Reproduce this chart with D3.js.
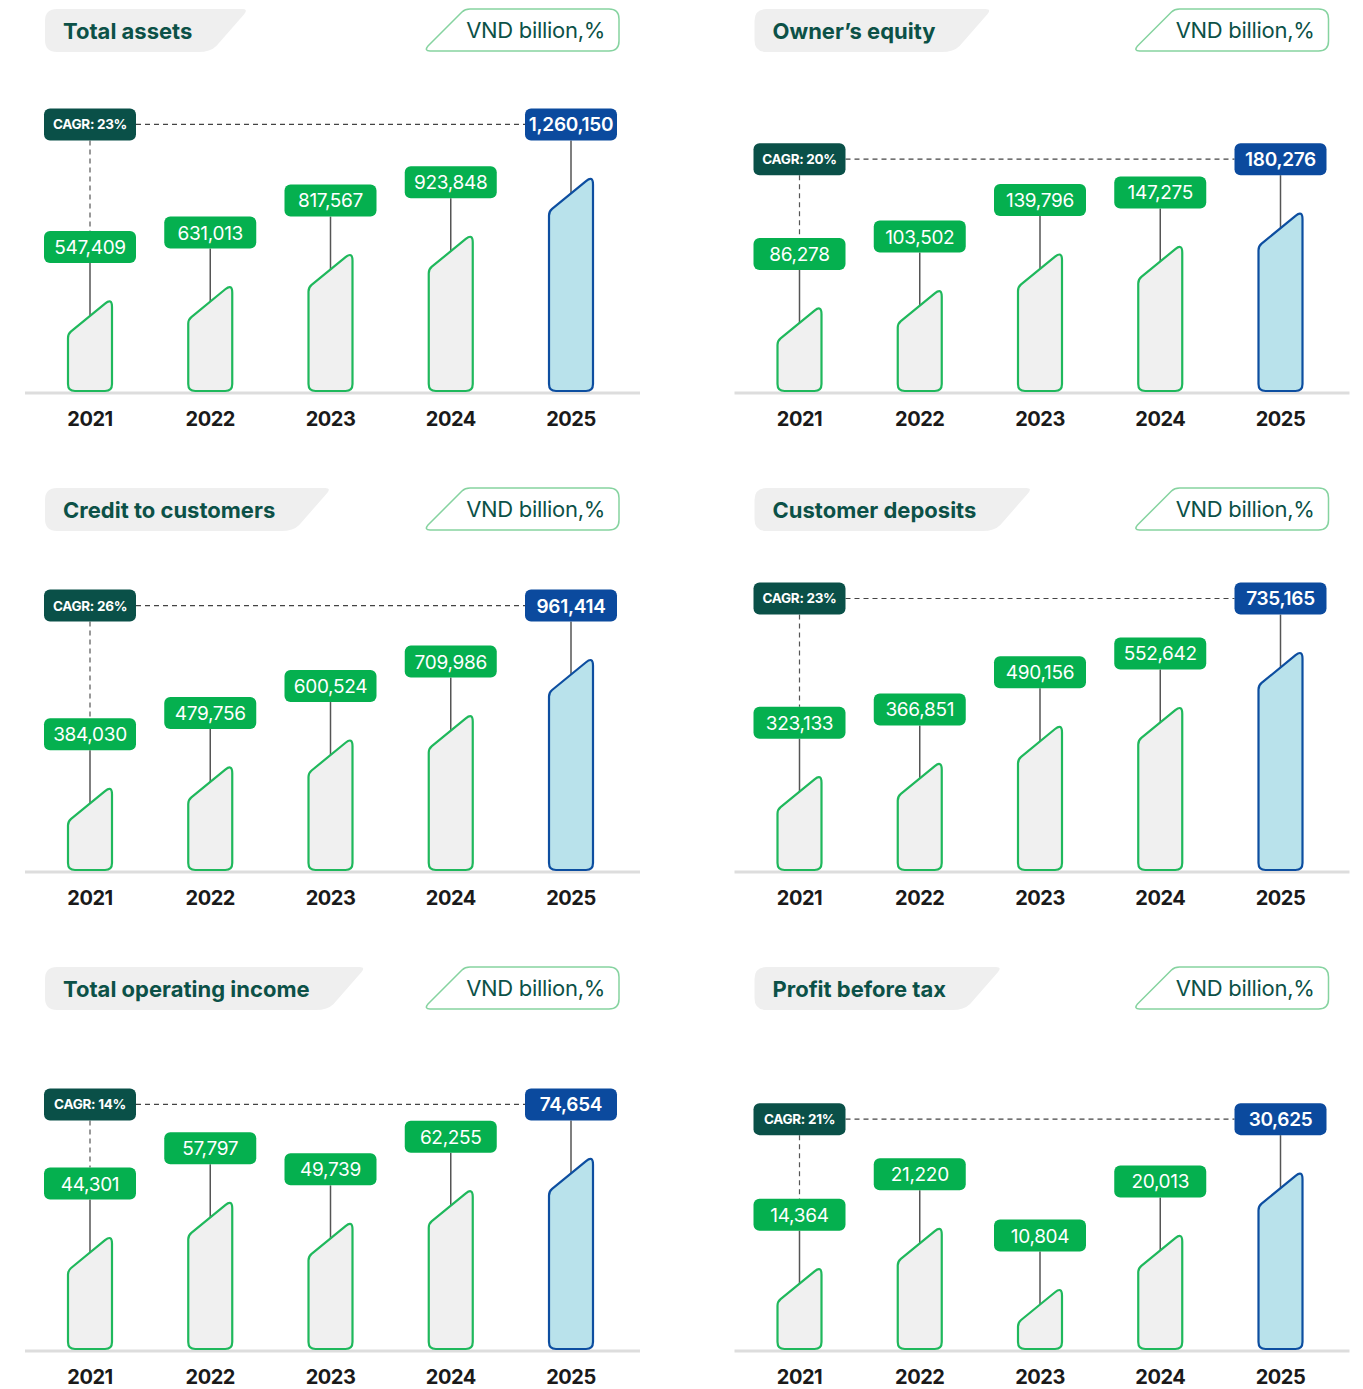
<!DOCTYPE html>
<html>
<head>
<meta charset="utf-8">
<script src="https://cdn.jsdelivr.net/npm/d3@7"></script>
<style>
  body { margin: 0; background: #ffffff; }
  svg text { font-family: Inter, "Noto Sans", sans-serif; }
</style>
</head>
<body>
<div id="canvasContainer"></div>
<script>
// Chart data
var years = ["2021", "2022", "2023", "2024", "2025"];
var titles = ["Total assets", "Owner\u2019s equity", "Credit to customers",
              "Customer deposits", "Total operating income", "Profit before tax"];
var unitLabel = "VND billion,%";
var totalAssets = [547409, 631013, 817567, 923848, 1260150];
var ownersEquity = [86278, 103502, 139796, 147275, 180276];
var creditToCustomers = [384030, 479756, 600524, 709986, 961414];
var customerDeposits = [323133, 366851, 490156, 552642, 735165];
var operatingIncome = [44301, 57797, 49739, 62255, 74654];
var profitBeforeTax = [14364, 21220, 10804, 20013, 30625];
var cagrLabels = ["23%", "20%", "26%", "23%", "14%", "21%"];
// top of each panel's value axis
var scaleMax = [1350000, 230000, 1040000, 770000, 89000, 39500];

var seriesList = [totalAssets, ownersEquity, creditToCustomers,
                  customerDeposits, operatingIncome, profitBeforeTax];

var width = 1363;
var height = 1389;

var svg = d3.select("#canvasContainer").append("svg")
    .attr("width", width).attr("height", height);

var fmt = d3.format(",");

// Builds the bar outline: flat bottom, slanted top going up to the right
function barPath(x, w, yTop, yBase, drop) {
  var r = 7, r2 = 9, r1 = 4;
  var len = Math.sqrt(w * w + drop * drop);
  var ux = w / len, uy = -drop / len;
  var dx = x, dy = yTop + drop;
  var p = d3.path();
  p.moveTo(x, dy + r1);
  p.lineTo(x, yBase - r);
  p.quadraticCurveTo(x, yBase, x + r, yBase);
  p.lineTo(x + w - r, yBase);
  p.quadraticCurveTo(x + w, yBase, x + w, yBase - r);
  p.lineTo(x + w, yTop + r2);
  p.quadraticCurveTo(x + w, yTop, x + w - r2 * ux, yTop - r2 * uy);
  p.lineTo(dx + r1 * ux, dy + r1 * uy);
  p.quadraticCurveTo(dx, dy, x, dy + r1);
  p.closePath();
  return p.toString();
}

// Draws one panel, offset by column and row
function drawPanel(i) {
  var col = i % 2;
  var row = Math.floor(i / 2);
  var values = seriesList[i];
  var g = svg.append("g")
      .attr("transform", "translate(" + (col * 709.5) + "," + (row * 479) + ")");

  // --- header: grey title tab
  var titleText = g.append("text")
      .attr("x", 63).attr("y", 39)
      .attr("font-size", 22).attr("font-weight", 700)
      .attr("fill", "#0c5147")
      .text(titles[i]);
  var tw = titleText.node().getComputedTextLength();
  var tabRight = 63 + tw + 54;
  var tab = d3.path();
  tab.moveTo(45 + 12, 9);
  tab.lineTo(tabRight - 4, 9);
  tab.quadraticCurveTo(tabRight + 2, 9, tabRight - 2, 14);
  tab.lineTo(tabRight - 30, 46);
  tab.quadraticCurveTo(tabRight - 36, 52, tabRight - 48, 52);
  tab.lineTo(45 + 12, 52);
  tab.quadraticCurveTo(45, 52, 45, 40);
  tab.lineTo(45, 21);
  tab.quadraticCurveTo(45, 9, 57, 9);
  tab.closePath();
  g.insert("path", "text").attr("d", tab.toString()).attr("fill", "#efefef");

  // --- header: unit box with slanted left edge
  var ub = d3.path();
  ub.moveTo(470, 9);
  ub.lineTo(609, 9);
  ub.quadraticCurveTo(619, 9, 619, 19);
  ub.lineTo(619, 41);
  ub.quadraticCurveTo(619, 51, 609, 51);
  ub.lineTo(430, 51);
  ub.quadraticCurveTo(424, 51, 428, 46);
  ub.lineTo(462, 12);
  ub.quadraticCurveTo(465, 9, 470, 9);
  ub.closePath();
  g.append("path").attr("d", ub.toString())
      .attr("fill", "#ffffff").attr("stroke", "#86d3a0").attr("stroke-width", 1.5);
  g.append("text")
      .attr("x", 605).attr("y", 38)
      .attr("text-anchor", "end")
      .attr("font-size", 22).attr("fill", "#0c5147")
      .attr("letter-spacing", -0.3)
      .text(unitLabel);

  // --- scales
  var baseY = 392;
  var x = d3.scalePoint().domain(years).range([90, 571]);
  var y = d3.scaleLinear().domain([0, scaleMax[i]]).range([baseY, baseY - 232]);
  var barW = 44, drop = 36, labelGap = 51, boxW = 92, boxH = 32;
  var last = years.length - 1;

  // baseline
  g.append("line")
      .attr("x1", 25).attr("x2", 640)
      .attr("y1", baseY + 1).attr("y2", baseY + 1)
      .attr("stroke", "#dddddd").attr("stroke-width", 3);

  // year labels
  g.selectAll(".year").data(years).enter().append("text")
      .attr("class", "year")
      .attr("x", function(d) { return x(d); })
      .attr("y", baseY + 34)
      .attr("text-anchor", "middle")
      .attr("font-size", 20).attr("font-weight", 700)
      .attr("fill", "#1a1a1a")
      .attr("letter-spacing", -0.5)
      .text(function(d) { return d; });

  var labelY = function(v) { return y(v) - labelGap; };
  var cagrY = labelY(values[last]);

  // CAGR dashed guides
  g.append("line")
      .attr("x1", x(years[0]) + boxW / 2).attr("x2", x(years[last]) - boxW / 2)
      .attr("y1", cagrY).attr("y2", cagrY)
      .attr("stroke", "#444").attr("stroke-width", 1.2)
      .attr("stroke-dasharray", "5,4");
  g.append("line")
      .attr("x1", x(years[0])).attr("x2", x(years[0]))
      .attr("y1", cagrY + boxH / 2).attr("y2", labelY(values[0]) - boxH / 2)
      .attr("stroke", "#555").attr("stroke-width", 1.2)
      .attr("stroke-dasharray", "5,4");

  // connector lines from label to the middle of the slanted top
  g.selectAll(".stem").data(values).enter().append("line")
      .attr("class", "stem")
      .attr("x1", function(d, j) { return x(years[j]); })
      .attr("x2", function(d, j) { return x(years[j]); })
      .attr("y1", function(d) { return labelY(d) + boxH / 2; })
      .attr("y2", function(d) { return y(d) + drop / 2; })
      .attr("stroke", "#555").attr("stroke-width", 1.5);

  // bars
  g.selectAll(".bar").data(values).enter().append("path")
      .attr("class", "bar")
      .attr("d", function(d, j) {
        return barPath(x(years[j]) - barW / 2, barW, y(d), baseY - 1, drop);
      })
      .attr("fill", function(d, j) { return j === last ? "#b9e2eb" : "#f0f0f0"; })
      .attr("stroke", function(d, j) { return j === last ? "#0d4ea0" : "#1fb85c"; })
      .attr("stroke-width", 2.2);

  // value label boxes
  var lab = g.selectAll(".vlabel").data(values).enter().append("g")
      .attr("class", "vlabel")
      .attr("transform", function(d, j) {
        return "translate(" + x(years[j]) + "," + labelY(d) + ")";
      });
  lab.append("rect")
      .attr("x", -boxW / 2).attr("y", -boxH / 2)
      .attr("width", boxW).attr("height", boxH)
      .attr("rx", 6)
      .attr("fill", function(d, j) { return j === last ? "#0b4a9e" : "#05b04f"; });
  lab.append("text")
      .attr("y", 7)
      .attr("text-anchor", "middle")
      .attr("font-size", 19)
      .attr("font-weight", function(d, j) { return j === last ? 600 : 400; })
      .attr("fill", "#ffffff")
      .attr("letter-spacing", -0.3)
      .text(function(d) { return fmt(d); });

  // CAGR box
  var cg = g.append("g")
      .attr("transform", "translate(" + x(years[0]) + "," + cagrY + ")");
  cg.append("rect")
      .attr("x", -boxW / 2).attr("y", -boxH / 2)
      .attr("width", boxW).attr("height", boxH)
      .attr("rx", 6).attr("fill", "#0a5048");
  cg.append("text")
      .attr("y", 5)
      .attr("text-anchor", "middle")
      .attr("font-size", 13.5).attr("font-weight", 700)
      .attr("fill", "#ffffff")
      .attr("letter-spacing", -0.3)
      .text("CAGR: " + cagrLabels[i]);
}

for (var i = 0; i < seriesList.length; i++) {
  drawPanel(i);
}
</script>
</body>
</html>
